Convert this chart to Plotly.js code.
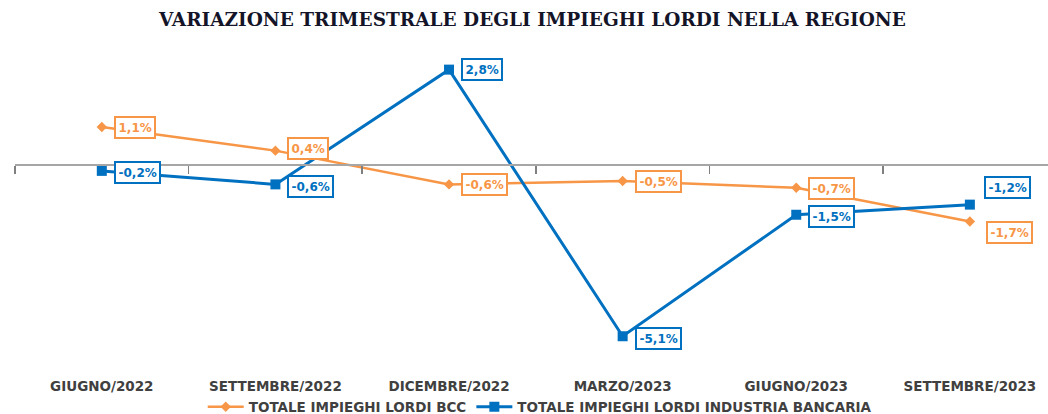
<!DOCTYPE html>
<html>
<head>
<meta charset="utf-8">
<script src="https://cdn.plot.ly/plotly-3.0.1.min.js"></script>
<style>html,body{margin:0;padding:0;background:#fff;}#chart{width:1048px;height:414px;}</style>
</head>
<body>
<div id="chart"></div>
<script>
const categories = ["GIUGNO/2022", "SETTEMBRE/2022", "DICEMBRE/2022", "MARZO/2023", "GIUGNO/2023", "SETTEMBRE/2023"];
const bccValues = [1.1, 0.4, -0.6, -0.5, -0.7, -1.7];
const bankValues = [-0.2, -0.6, 2.8, -5.1, -1.5, -1.2];
const bccName = "TOTALE IMPIEGHI LORDI BCC";
const bankName = "TOTALE IMPIEGHI LORDI INDUSTRIA BANCARIA";
const titleText = "VARIAZIONE TRIMESTRALE DEGLI IMPIEGHI LORDI NELLA REGIONE";

const ORANGE = "#F79646";
const BLUE = "#0070C0";
const SANS = "DejaVu Sans, Liberation Sans, sans-serif";
const idx = categories.map((_, i) => i);
const yMin = -6.1, yMax = 3.5;
const fmt = v => v.toFixed(1).replace(".", ",") + "%";

// label offsets (style only): [xshift, yshift]
const bccShift = [[0,0],[0,2],[0,0],[0,0],[0,-1],[4,-11]];
const bankShift = [[0,-2],[0,-2],[0,0],[0,-2],[0,-2],[2,17]];

const traces = [
  {x: idx, y: bccValues, name: bccName, type: "scatter", mode: "lines+markers",
   line: {color: ORANGE, width: 2.5}, marker: {symbol: "diamond", size: 8, color: ORANGE}, hoverinfo: "skip"},
  {x: idx, y: bankValues, name: bankName, type: "scatter", mode: "lines+markers",
   line: {color: BLUE, width: 3}, marker: {symbol: "square", size: 10, color: BLUE}, hoverinfo: "skip"},
  {x: idx, y: idx.map(() => null), xaxis: "x2", yaxis: "y", showlegend: false, hoverinfo: "skip", mode: "lines"}
];

function labels(vals, color, shifts) {
  return vals.map((v, i) => ({
    x: i, y: v, xref: "x", yref: "y", text: "<b>" + fmt(v) + "</b>", showarrow: false,
    xanchor: "left", yanchor: "middle", xshift: 12 + shifts[i][0], yshift: shifts[i][1],
    font: {family: SANS, size: 12, color: color},
    bgcolor: "#ffffff", bordercolor: color, borderwidth: 2, borderpad: 2.5
  }));
}

const zeroPos = (0 - yMin) / (yMax - yMin);

const layout = {
  width: 1048, height: 414,
  margin: {l: 15, r: 0, t: 46, b: 44},
  paper_bgcolor: "#ffffff", plot_bgcolor: "#ffffff",
  showlegend: true,
  title: {text: "<b>" + titleText + "</b>", x: 0.508, xref: "container", xanchor: "center",
          y: 1 - 20/414, yref: "container", yanchor: "middle",
          font: {family: "DejaVu Serif, Liberation Serif, serif", size: 18.5, color: "#141428"}},
  xaxis: {range: [-0.5, 5.45], tickmode: "array", tickvals: idx, ticktext: categories.map(c => "<b>" + c + "</b>"),
          showline: false, showgrid: false, zeroline: false, ticks: "outside", ticklen: 4, tickcolor: "rgba(0,0,0,0)",
          tickfont: {family: SANS, size: 13.5, color: "#404040"},
          fixedrange: true},
  xaxis2: {range: [-0.5, 5.45], overlaying: "x", anchor: "free", position: zeroPos, side: "bottom",
           tickmode: "array", tickvals: idx.map(i => i - 0.5).concat([5.5]), showticklabels: false,
           showline: true, linecolor: "#a6a6a6", linewidth: 1.5, ticks: "outside", ticklen: 8, tickwidth: 1.5, tickcolor: "#808080",
           showgrid: false, zeroline: false, fixedrange: true},
  yaxis: {range: [yMin, yMax], visible: false, showgrid: false, zeroline: false, fixedrange: true},
  legend: {orientation: "h", x: 0.515, xref: "container", xanchor: "center", y: 7/414, yref: "container", yanchor: "middle",
           font: {family: SANS, size: 13.5, color: "#404040", weight: "bold"},
           itemwidth: 36, tracegroupgap: 0},
  annotations: labels(bccValues, ORANGE, bccShift).concat(labels(bankValues, BLUE, bankShift))
};

Plotly.newPlot("chart", traces, layout, {displayModeBar: false, staticPlot: true});
</script>
</body>
</html>
